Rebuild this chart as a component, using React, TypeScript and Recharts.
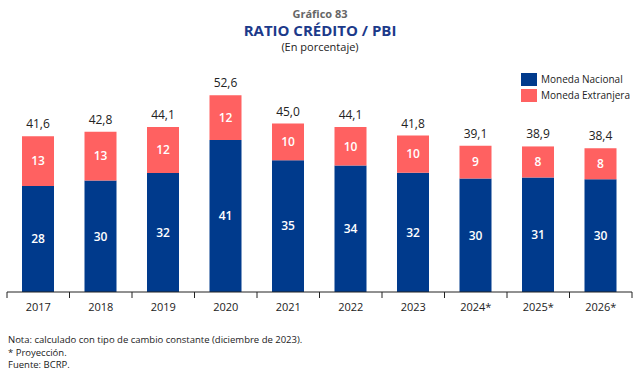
import { BarChart, Bar, XAxis, YAxis, LabelList } from 'recharts'

const years = ['2017', '2018', '2019', '2020', '2021', '2022', '2023', '2024*', '2025*', '2026*']
const nacional = [28.3, 29.8, 31.8, 40.6, 35.2, 33.8, 31.9, 30.3, 30.6, 30.1]
const extranjera = [13.3, 13.0, 12.3, 12.0, 9.8, 10.3, 9.9, 8.8, 8.3, 8.3]
const totals = [41.6, 42.8, 44.1, 52.6, 45.0, 44.1, 41.8, 39.1, 38.9, 38.4]

const BLUE = '#003A8C'
const RED = '#FF6161'
const FONT = '"Open Sans", "Noto Sans", sans-serif'

const W = 640
const H = 376
const M = { top: 60, right: 8, left: 7, bottom: 54 }
const BAND = (W - M.left - M.right) / years.length

const data = years.map((y, i) => ({
  year: y,
  mn: nacional[i],
  me: extranjera[i],
  total: totals[i]
}))

const YearTick = (props: any) => {
  const { x, y, payload, index } = props
  const axisY = y - 8
  const left = x - BAND / 2
  const right = x + BAND / 2
  return (
    <g>
      <line x1={left} x2={left} y1={axisY} y2={axisY + 6} stroke="#222" strokeWidth={1} />
      {index === years.length - 1 && (
        <line x1={right} x2={right} y1={axisY} y2={axisY + 6} stroke="#222" strokeWidth={1} />
      )}
      <text x={x} y={y} dy={11} textAnchor="middle" fontSize={11} fill="#222" fontFamily={FONT}>
        {payload.value}
      </text>
    </g>
  )
}

export default function App() {
  return (
    <div style={{ position: 'absolute', left: 0, top: 0, width: W, height: H, background: '#fff', fontFamily: FONT }}>
      <div style={{ position: 'absolute', top: 6, width: W, textAlign: 'center', fontSize: 11, fontWeight: 700, color: '#666' }}>
        Gráfico 83
      </div>
      <div style={{ position: 'absolute', top: 20, width: W, textAlign: 'center', fontSize: 15, fontWeight: 700, color: '#1C3A8A' }}>
        RATIO CRÉDITO / PBI
      </div>
      <div style={{ position: 'absolute', top: 39, width: W, textAlign: 'center', fontSize: 11, color: '#222' }}>
        (En porcentaje)
      </div>

      <div style={{ position: 'absolute', left: 521, top: 71, fontSize: 10, color: '#222', lineHeight: '16px' }}>
        <div style={{ display: 'flex', alignItems: 'center', gap: 4 }}>
          <span style={{ width: 16, height: 13, background: BLUE, display: 'inline-block' }} />
          Moneda Nacional
        </div>
        <div style={{ display: 'flex', alignItems: 'center', gap: 4 }}>
          <span style={{ width: 16, height: 13, background: RED, display: 'inline-block' }} />
          Moneda Extranjera
        </div>
      </div>

      <div style={{ position: 'absolute', left: 0, top: 0 }}>
        <BarChart width={W} height={H} data={data} margin={M} barSize={32}>
          <YAxis hide domain={[0, 62]} />
          <XAxis
            dataKey="year"
            height={30}
            tickLine={false}
            axisLine={{ stroke: '#222', strokeWidth: 1 }}
            tick={<YearTick />}
            interval={0}
          />
          <Bar dataKey="mn" stackId="a" fill={BLUE} isAnimationActive={false}>
            <LabelList
              dataKey="mn"
              position="center"
              formatter={(v: any) => Math.round(Number(v))}
              fill="#fff"
              fontSize={12}
              fontWeight={600}
              fontFamily={FONT}
            />
          </Bar>
          <Bar dataKey="me" stackId="a" fill={RED} isAnimationActive={false}>
            <LabelList
              dataKey="me"
              position="center"
              formatter={(v: any) => Math.round(Number(v))}
              fill="#fff"
              fontSize={12}
              fontWeight={600}
              fontFamily={FONT}
            />
            <LabelList
              dataKey="total"
              position="top"
              offset={8}
              formatter={(v: any) => Number(v).toFixed(1).replace('.', ',')}
              fill="#222"
              fontSize={12}
              fontFamily={FONT}
            />
          </Bar>
        </BarChart>
      </div>

      <div style={{ position: 'absolute', left: 8, top: 334, fontSize: 9.5, color: '#222', lineHeight: '12.5px' }}>
        <div>Nota: calculado con tipo de cambio constante (diciembre de 2023).</div>
        <div>* Proyección.</div>
        <div>Fuente: BCRP.</div>
      </div>
    </div>
  )
}
